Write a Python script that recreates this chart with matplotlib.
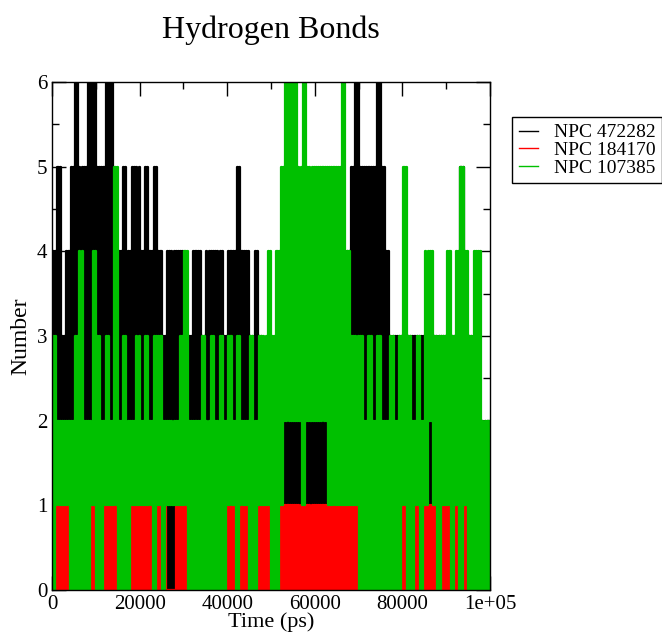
import matplotlib.pyplot as plt
from matplotlib.lines import Line2D

# hydrogen bond counts, one character per 1000 ps bin
# (lowest and highest count reached inside each bin), 10 bins per group
bin_ps = 1000

black_lo = "2212222222 2222222222 2222220022 2222222222 2222222211 1111111111 1111111222 2212121222 2222221222 2222222111"
black_hi = "4534565566 5566445455 4545434444 3344344443 4454434322 2222222222 2223333456 5555654333 3333333333 3335333222"
red_lo   = "0000000000 0000000000 0000000000 0000000000 0000000000 0000000000 0000000000 0000000000 0000000000 0000000000"
red_hi   = "1111111111 1111111111 1111110011 1111111111 1111111111 1111111111 1111111111 1111111111 1111111111 1111111111"
green_lo = "0111000001 0011100011 1110101111 1000000000 1101100111 0012222122 2221111111 0000000000 1001012101 1010100000"
green_hi = "3222234224 3232523223 2323322223 4222323232 3232232334 3456665655 5555556433 3232322323 5323244333 4345434422"

series_names = ['NPC 472282', 'NPC 184170', 'NPC 107385']
series_colors = ['black', '#ff0000', '#00c000']

xticks = [0, 20000, 40000, 60000, 80000, 100000]
xtick_labels = ['0', '20000', '40000', '60000', '80000', '1e+05']
yticks = [0, 1, 2, 3, 4, 5, 6]


def trace(lo, hi):
    lo = "".join(lo.split())
    hi = "".join(hi.split())
    t, y = [], []
    for i, (a, b) in enumerate(zip(lo, hi)):
        t0 = i * bin_ps
        t += [t0, t0 + bin_ps / 4, t0 + bin_ps / 2, t0 + 3 * bin_ps / 4]
        y += [int(a), int(b), int(a), int(b)]
    return t, y


plt.rcParams['font.family'] = ['Liberation Serif', 'DejaVu Serif']

fig = plt.figure(figsize=(6.62, 6.38), dpi=100)
ax = fig.add_axes([52 / 662, 48 / 638, 438 / 662, 508 / 638])

traces = [trace(black_lo, black_hi), trace(red_lo, red_hi), trace(green_lo, green_hi)]
for (t, y), color in zip(traces, series_colors):
    ax.plot(t, y, color=color, lw=1.6, drawstyle='steps-post')

ax.set_xlim(0, 100000)
ax.set_ylim(0, 6)
ax.set_xticks(xticks)
ax.set_xticklabels(xtick_labels)
ax.set_xticks(range(10000, 100000, 20000), minor=True)
ax.set_yticks(yticks)
ax.set_yticks([0.5, 1.5, 2.5, 3.5, 4.5, 5.5], minor=True)
ax.tick_params(which='both', direction='in', top=True, right=True, labelsize=15, width=1)
ax.tick_params(which='major', length=10)
ax.tick_params(which='minor', length=5)
for s in ax.spines.values():
    s.set_linewidth(1)
    s.set_zorder(5)

ax.set_xlabel('Time (ps)', fontsize=16, labelpad=-1)
ax.set_ylabel('Number', fontsize=17, labelpad=4)

fig.text(271 / 662, 1 - 30 / 638, 'Hydrogen Bonds', ha='center', va='center', fontsize=23)

handles = [Line2D([], [], color=c, lw=1) for c in series_colors]
fig.legend(handles, series_names, loc='upper left', bbox_to_anchor=(512 / 662, 1 - 117 / 638),
           fontsize=14, frameon=True, fancybox=False, edgecolor='black', framealpha=1,
           handlelength=1.0, handletextpad=0.8, labelspacing=0.0, borderpad=0.35,
           borderaxespad=0)

fig.savefig('out.png', dpi=100)
